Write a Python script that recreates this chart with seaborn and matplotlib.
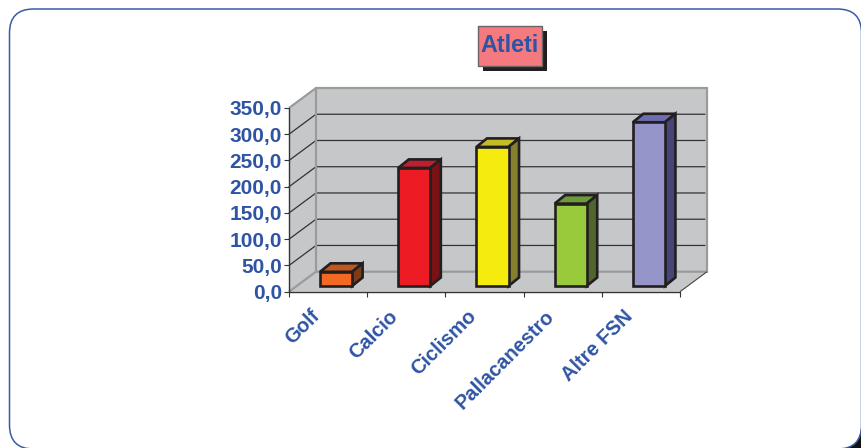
import matplotlib
matplotlib.use("Agg")
import matplotlib.pyplot as plt
import seaborn as sns
import pandas as pd
from matplotlib.patches import Polygon, FancyBboxPatch, Rectangle
from matplotlib.transforms import IdentityTransform, Affine2D

categories = ["Golf", "Calcio", "Ciclismo", "Pallacanestro", "Altre FSN"]
values = [27, 225, 265, 157, 312]
y_ticks = [0, 50, 100, 150, 200, 250, 300, 350]
y_labels = ["0,0", "50,0", "100,0", "150,0", "200,0", "250,0", "300,0", "350,0"]
front_colors = ["#F26A21", "#ED1C24", "#F5EB0C", "#99CA3C", "#9595C9"]
top_colors = ["#C0571F", "#BE1E2D", "#C4BC24", "#6E9A3A", "#6D6DB0"]
side_colors = ["#7F3B17", "#7A1214", "#85802E", "#4F662D", "#45457A"]

W, H = 861, 448
BLUE = "#2E54A4"
DARK = "#231F20"
WALL = "#C6C7C9"
EDGE = "#9A9B9D"
DEPTH = (27, 20)
BAR_SHIFT = (8, 5.7)
BAR_DEPTH = (10.5, 8.5)

sns.set_theme(style="white")
plt.rcParams["font.family"] = ["Liberation Sans", "DejaVu Sans"]

fig = plt.figure(figsize=(W / 100, H / 100), dpi=100, facecolor="white")
ident = IdentityTransform()

# outer frame with dark corner behind it
fig.add_artist(Rectangle((835, 0), 26, 26, transform=ident, fc="#111111", ec="none", zorder=-3))
fig.add_artist(FancyBboxPatch((9.5 + 24, -1 + 24), 852 - 48, 440 - 48,
                              boxstyle="round,pad=24,rounding_size=24", transform=ident,
                              fc="white", ec="#3A5BA8", lw=1.1, zorder=-2))

ax = fig.add_axes([289 / W, (H - 291.7) / H, 391 / W, 183.7 / H])
ax.patch.set_visible(False)
df = pd.DataFrame({"cat": categories, "val": values})
sns.barplot(data=df, x="cat", y="val", hue="cat", palette=front_colors, legend=False,
            width=0.41, edgecolor=DARK, linewidth=1.9, saturation=1, ax=ax, zorder=5)
ax.set_xlim(-0.5, 4.5)
ax.set_ylim(0, 350)
ax.set_xlabel("")
ax.set_ylabel("")
sns.despine(ax=ax, top=True, right=True, left=True, bottom=True)

fig.canvas.draw()
x0, y0 = ax.transData.transform((-0.5, 0))
x1, y1 = ax.transData.transform((4.5, 350))
dx, dy = DEPTH


def poly(pts, fc="none", ec="none", lw=0, z=1, close=True):
    p = Polygon(pts, closed=close, transform=ident, facecolor=fc, edgecolor=ec,
                linewidth=lw, zorder=z, clip_on=False, joinstyle="miter")
    ax.add_patch(p)


# walls and floor
poly([(x0, y0), (x0 + dx, y0 + dy), (x0 + dx, y1 + dy), (x0, y1)], fc=WALL, z=0.5)
poly([(x0 + dx, y0 + dy), (x1 + dx, y0 + dy), (x1 + dx, y1 + dy), (x0 + dx, y1 + dy)], fc=WALL, z=0.5)
poly([(x0, y0), (x1, y0), (x1 + dx, y0 + dy), (x0 + dx, y0 + dy)], fc=WALL, z=0.5)

# gridlines follow the y scale
for t in y_ticks[1:-1]:
    _, yy = ax.transData.transform((0, t))
    ax.plot([x0, x0 + dx, x1 + dx - 2], [yy, yy + dy, yy + dy], transform=ident,
            color="#333333", lw=0.9, zorder=1, clip_on=False)

poly([(x0, y1), (x0 + dx, y1 + dy), (x1 + dx, y1 + dy), (x1 + dx, y0 + dy), (x0 + dx, y0 + dy)],
     ec=EDGE, lw=1.6, z=2, close=False)
poly([(x0, y0), (x0 + dx, y0 + dy), (x0 + dx, y1 + dy)], ec=EDGE, lw=1.6, z=2, close=False)
poly([(x1, y0), (x1 + dx, y0 + dy)], ec="#444444", lw=0.8, z=2, close=False)

# axis lines
ax.plot([x0, x0], [y0, y1], transform=ident, color="#333333", lw=1.0, zorder=3, clip_on=False)
ax.plot([x0, x1], [y0, y0], transform=ident, color="#333333", lw=1.0, zorder=3, clip_on=False)

# bars: seaborn rectangles pushed into the floor, depth faces built from them
sx, sy = BAR_SHIFT
bx, by = BAR_DEPTH
for bar, top_c, side_c in zip(ax.patches[:len(values)], top_colors, side_colors):
    ext = ax.transData.transform([(bar.get_x(), bar.get_y()),
                                  (bar.get_x() + bar.get_width(), bar.get_y() + bar.get_height())])
    (l, b), (r, t) = ext
    l, r, b, t = l + sx, r + sx, b + sy, t + sy
    bar.set_transform(ident)
    bar.set_xy((l, b))
    bar.set_width(r - l)
    bar.set_height(t - b)
    bar.set_clip_on(False)
    poly([(l, t), (r, t), (r + bx, t + by), (l + bx, t + by)], fc=top_c, ec=DARK, lw=1.9, z=4)
    poly([(r, b), (r + bx, b + by), (r + bx, t + by), (r, t)], fc=side_c, ec=DARK, lw=1.9, z=4)

ax.set_yticks(y_ticks)
ax.set_yticklabels(y_labels, fontsize=15, fontweight="bold", color=BLUE)
ax.set_xticks([i - 0.5 for i in range(len(categories) + 1)], minor=True)
ax.tick_params(axis="x", which="minor", bottom=True, length=3.6, width=0.8, color="#333333", pad=0)
ax.tick_params(axis="x", which="major", bottom=False, pad=1)
ax.tick_params(axis="y", left=True, length=3.6, width=0.8, color="#333333", pad=1.5)
ax.set_xticks(range(len(categories)))
ax.set_xticklabels(categories, fontsize=14.5, fontweight="bold", color=BLUE,
                   rotation=45, ha="right", rotation_mode="anchor")
for lab in ax.get_xticklabels():
    lab.set_transform(lab.get_transform() + Affine2D().translate(-18, -5))

# title box
fig.add_artist(Rectangle((483, H - 71), 64, 40, transform=ident, fc="#231F20", ec="none", zorder=6))
fig.add_artist(Rectangle((478, H - 66), 64, 40, transform=ident, fc="#F47A7F", ec="#6E6465", lw=1.0, zorder=7))
fig.text(510 / W, (H - 46) / H, "Atleti", fontsize=16.8, fontweight="bold", color=BLUE,
         ha="center", va="center", zorder=8)

fig.savefig("out.png", dpi=100, facecolor="white")
